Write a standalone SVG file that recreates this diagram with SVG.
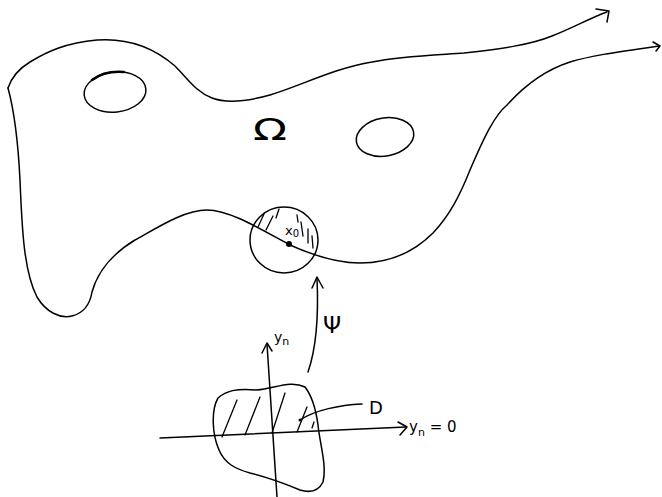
<svg xmlns="http://www.w3.org/2000/svg" width="662" height="497" viewBox="0 0 662 497">
<style>
.s{fill:none;stroke:#000;stroke-width:1.5;stroke-linecap:round;stroke-linejoin:round}
.h{fill:none;stroke:#000;stroke-width:1.3;stroke-linecap:round}
.t{font-family:"DejaVu Sans","Liberation Sans",sans-serif;fill:#000}
</style>
<rect width="662" height="497" fill="#fff"/>
<g id="omega">
<path class="s" d="M8,88 C12,76 20,68 30,62 C48,51 66,43 97,40 C125,38 152,46 175,66 C188,79 196,92 212,98 C228,104 252,100 270,95 C300,86 335,68 372,62 C400,56 435,55 464,53 C500,49 530,45 552,36 C575,27 590,18 607,12"/>
<path class="s" d="M596,9 L609,11 L607,22"/>
<path class="s" d="M8,88 C14,110 18,140 20,180 C22,230 24,272 37,297 C46,312 60,319 72,316 C84,313 90,304 92,292 C98,270 115,252 135,240 C160,226 185,210 207,210 C230,210 262,230 290,245 C310,254 335,263 360,263 C385,263 410,256 433,233 C450,215 460,195 470,170 C485,135 495,115 507,105 C525,85 545,70 570,62 C590,56 610,53 659,46"/>
<path class="s" d="M653,42 L660,46 L656,51"/>
<ellipse class="s" cx="115" cy="92" rx="31" ry="20" transform="rotate(-6 115 92)"/>
<path d="M92,80 C100,74 112,71 124,72" fill="none" stroke="#000" stroke-width="2.6" stroke-linecap="round"/>
<ellipse class="s" cx="385" cy="137" rx="29" ry="19" transform="rotate(-10 385 137)"/>
<text class="t" x="253" y="140" font-size="30" textLength="34" lengthAdjust="spacingAndGlyphs">Ω</text>
</g>
<g id="ball">
<ellipse class="s" cx="284" cy="240" rx="34" ry="33"/>
<circle cx="289" cy="244" r="3" fill="#000"/>
<line class="h" x1="258" y1="227" x2="264" y2="214"/>
<line class="h" x1="266" y1="230" x2="273" y2="216"/>
<line class="h" x1="276" y1="218" x2="279" y2="209"/>
<line class="h" x1="297" y1="215" x2="298" y2="222"/>
<line class="h" x1="301" y1="222" x2="303" y2="236"/>
<line class="h" x1="308" y1="229" x2="308" y2="243"/>
<line class="h" x1="312" y1="236" x2="313" y2="248"/>
<text class="t" x="285" y="235" font-size="13">x<tspan font-size="10" dy="2">0</tspan></text>
</g>
<g id="map">
<path class="s" d="M308,372 C315,352 319,322 317,278"/>
<path class="s" d="M312,288 L317,277 L323,288"/>
<text class="t" x="323" y="333" font-size="23">Ψ</text>
</g>
<g id="halfspace">
<path class="s" d="M218,398 C226,391 236,388 257,390 C276,388 291,380 305,387 C312,396 316,410 318,425 C320,445 327,465 323,482 C318,492 310,493 300,490 C288,485 270,478 250,473 C236,469 225,464 219,450 C212,434 211,410 218,398 Z"/>
<line class="h" x1="222" y1="437" x2="237" y2="400"/>
<line class="h" x1="245" y1="435" x2="260" y2="397"/>
<line class="h" x1="272" y1="433" x2="285" y2="393"/>
<line class="h" x1="297" y1="432" x2="307" y2="407"/>
<line class="h" x1="312" y1="428" x2="314" y2="422"/>
<path class="s" d="M160,438 L406,427"/>
<path class="s" d="M398,422 L407,427 L400,435"/>
<path class="s" d="M267,344 L277,497"/>
<path class="s" d="M262,353 L267,343 L272,351"/>
<text class="t" x="274" y="342" font-size="14">y<tspan font-size="11" dy="3">n</tspan></text>
<circle cx="300" cy="420" r="1.5" fill="#000"/>
<path class="s" d="M300,420 C315,410 340,405 362,404"/>
<text class="t" x="369" y="414" font-size="18">D</text>
<text class="t" x="409" y="432" font-size="15">y<tspan font-size="11" dy="4">n</tspan><tspan dy="-4"> = 0</tspan></text>
</g>
</svg>
